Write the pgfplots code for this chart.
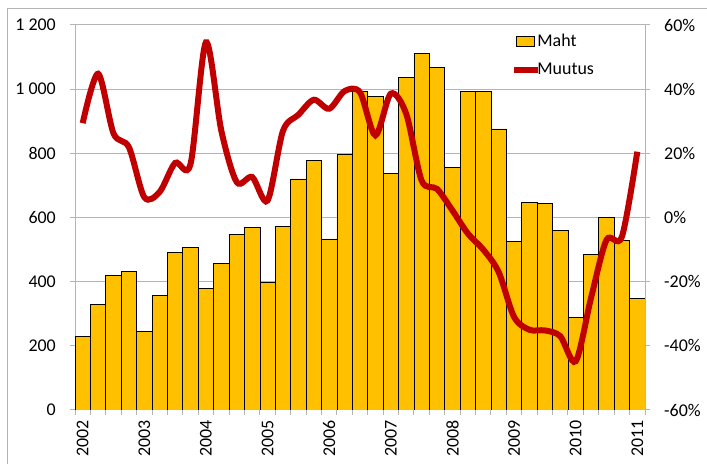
\documentclass[border=0pt]{standalone}
\usepackage{pgfplots}
\pgfplotsset{compat=1.18}
\usepackage{fontspec}
\setmainfont{Carlito}
\definecolor{barfill}{HTML}{FFC000}
\definecolor{linered}{HTML}{C00000}
\definecolor{gridgray}{HTML}{B4B4B4}
\pgfplotsset{
  mybarleg/.style={legend image code/.code={\draw[##1] (0bp,-5bp) rectangle (18bp,5bp);}},
  mylineleg/.style={legend image code/.code={\draw[##1] (-2bp,0bp) -- (22bp,0bp);}},
}
\pgfplotstableread{
i v
0 230
1 330
2 420
3 431
4 245
5 356
6 491
7 507
8 379
9 456
10 546
11 570
12 398
13 573
14 720
15 779
16 533
17 797
18 994
19 977
20 738
21 1037
22 1112
23 1068
24 756
25 992
26 992
27 876
28 525
29 647
30 644
31 561
32 289
33 485
34 600
35 528
36 349
}\bars
\pgfplotstableread{
i p
0 29.4
1 44.8
2 26.2
3 21.9
4 6.3
5 8.0
6 17.0
7 16.7
8 54.6
9 27.0
10 11.0
11 12.6
12 5.3
13 27.0
14 32.0
15 36.7
16 33.9
17 39.4
18 39.0
19 25.6
20 38.6
21 32.3
22 11.5
23 8.9
24 2.2
25 -5.0
26 -10.0
27 -17.0
28 -31.0
29 -35.0
30 -35.2
31 -37.0
32 -44.8
33 -25.0
34 -7.0
35 -6.0
36 20.5
}\change
\begin{document}
\fontsize{18}{21}\selectfont
\begin{tikzpicture}[x=1bp,y=1bp]
\useasboundingbox (0,0) rectangle (707,464);
\draw[color=gridgray, line width=1bp] (7,0) -- (7,455) -- (707,455);
\begin{axis}[
  at={(75bp,54bp)}, anchor=south west,
  scale only axis, width=570bp, height=385bp,
  xmin=-0.5, xmax=36.5, ymin=0, ymax=1200,
  axis x line*=bottom, axis y line*=left,
  axis line style={-, draw=gridgray, line width=1bp},
  tick align=outside, major tick length=5bp,
  tick style={draw=gridgray, line width=1bp},
  ytick={0,200,...,1200},
  yticklabels={0,200,400,600,800,1 000,1 200},
  ymajorgrids, grid style={draw=gridgray, line width=1bp},
  xtick={-0.5,0.5,...,36.5}, xticklabels={},
  extra x ticks={0,4,...,36},
  extra x tick labels={2002,2003,2004,2005,2006,2007,2008,2009,2010,2011},
  extra x tick style={major tick length=0pt, tick style={draw=none},
    xticklabel style={yshift=-4bp, rotate=90, anchor=east}},
  ticklabel style={font=\fontsize{18}{21}\selectfont, text=black},
  yticklabel style={xshift=-8bp},
]
\addplot[ybar, bar width=1, bar shift=0, fill=barfill, draw=black, line width=0.7bp] table[x=i, y=v] {\bars};
\end{axis}
\begin{axis}[
  at={(75bp,54bp)}, anchor=south west,
  scale only axis, width=570bp, height=385bp,
  xmin=-0.5, xmax=36.5, ymin=-60, ymax=60,
  axis x line=none, axis y line*=right,
  axis line style={-, draw=gridgray, line width=1bp},
  tick align=outside, major tick length=5bp,
  tick style={draw=gridgray, line width=1bp},
  ytick={-60,-40,...,60},
  yticklabels={-60\%,-40\%,-20\%,0\%,20\%,40\%,60\%},
  ticklabel style={font=\fontsize{18}{21}\selectfont, text=black},
  yticklabel style={xshift=8bp},
  legend style={at={(0.76,0.985)}, anchor=north west, draw=none, fill=none,
    font=\fontsize{18}{21}\selectfont, row sep=12bp, column sep=-5bp,
    nodes={inner sep=1bp}},
  legend cell align=left,
]
\addlegendimage{fill=barfill, draw=black, line width=0.7bp, mybarleg}
\addlegendentry{Maht}
\addplot[smooth, tension=0.5, color=linered, line width=6bp, mylineleg] table[x=i, y=p] {\change};
\addlegendentry{Muutus}
\end{axis}
\end{tikzpicture}
\end{document}
